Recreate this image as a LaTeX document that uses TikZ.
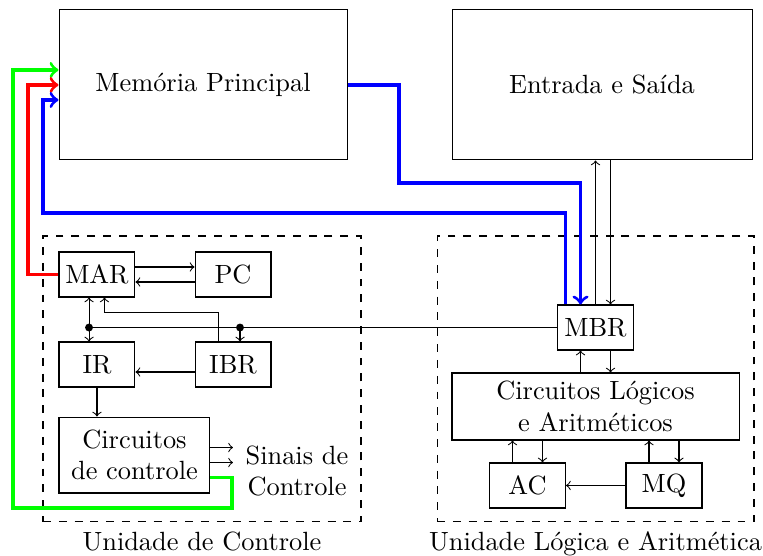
\documentclass[tikz,border=0pt]{standalone}
\usepackage{tikz}
\usepackage{amsmath}
\usetikzlibrary{calc}

\begin{document}
\begin{tikzpicture}[scale=1,
    caixa/.style={draw, minimum width=1.013cm, minimum height=0.6cm, inner sep=0pt},
    unidade/.style={draw, dashed, minimum width=4.24cm, minimum height=3.813cm},
    seta/.style={->},
    via/.style={->, very thick}]
    \useasboundingbox (0,0) rectangle (10.173,7.4);
    \node[draw, minimum width=3.84cm, minimum height=2cm] (MEM) at (2.707,6.267) {Memória Principal};
    \node[draw, minimum width=4cm, minimum height=2cm] (ES) at (8.027,6.267) {Entrada e Saída};
    \node[unidade] (UC) at (2.693,2.347) {};
    \node[unidade, minimum width=4.226cm] (ULA) at (7.94,2.347) {};
    \node[below] (UCnome) at (UC.south) {Unidade de Controle};
    \node[below] (ULAnome) at (ULA.south) {Unidade Lógica e Aritmética};
    \node[caixa] (MAR) at (1.293,3.74) {MAR};
    \node[caixa] (PC) at (3.107,3.74) {PC};
    \node[caixa] (IR) at (1.293,2.54) {IR};
    \node[caixa] (IBR) at (3.107,2.54) {IBR};
    \node[caixa, minimum width=2.013cm, minimum height=1.013cm, align=center] (CC) at (1.793,1.333) {Circuitos\\de controle};
    \node[align=center] (SC) at (3.96,1.12) {Sinais de\\Controle};
    \node[caixa] (MBR) at (7.94,3.033) {MBR};
    \node[caixa, minimum width=3.827cm, minimum height=0.893cm, align=center] (CLA) at (7.94,1.98) {Circuitos Lógicos\\e Aritméticos};
    \node[caixa] (AC) at (7.033,0.927) {AC};
    \node[caixa] (MQ) at (8.853,0.927) {MQ};
    \coordinate (B1) at (1.187,3.033);
    \coordinate (B2) at (3.2,3.033);
    \coordinate (M1) at ($(MBR.north)+(0.2,0)$);
    \coordinate (A1) at ($(AC.north)+(-0.2,0)$);
    \coordinate (A2) at ($(AC.north)+(0.2,0)$);
    \coordinate (Q1) at ($(MQ.north)+(-0.2,0)$);
    \coordinate (Q2) at ($(MQ.north)+(0.2,0)$);
    \draw[seta] ($(MAR.east)+(0,0.1)$) -- ($(PC.west)+(0,0.1)$);
    \draw[seta] ($(PC.west)+(0,-0.1)$) -- ($(MAR.east)+(0,-0.1)$);
    \draw (MBR.west) -- (B1); %BARRAMENTO
    \fill (B1) circle (1.5pt) (B2) circle (1.5pt);
    \draw[seta] (B1) -- (B1 |- MAR.south);
    \draw[seta] (B1) -- (B1 |- IR.north);
    \draw[seta] (B2) -- (B2 |- IBR.north);
    \draw[seta] ($(IBR.north)+(-0.2,0)$) |- ($(MAR.south)+(0.1,-0.2)$) -- ($(MAR.south)+(0.1,0)$);
    \draw[seta] ($(IBR.west)+(0,-0.1)$) -- ($(IR.east)+(0,-0.1)$);
    \draw[seta] (IR.south) -- (IR.south |- CC.north);
    \draw[seta] ($(CC.east)+(0,0.1)$) -- +(0.3,0);
    \draw[seta] ($(CC.east)+(0,-0.1)$) -- +(0.3,0);
    \draw[seta] (MBR.north) -- (MBR.north |- ES.south);
    \draw[seta] (ES.south -| M1) -- (M1);
    \draw[seta] ($(CLA.north)+(-0.2,0)$) -- ($(MBR.south)+(-0.2,0)$);
    \draw[seta] ($(MBR.south)+(0.2,0)$) -- ($(CLA.north)+(0.2,0)$);
    \draw[seta] (A1) -- (A1 |- CLA.south);
    \draw[seta] (A2 |- CLA.south) -- (A2);
    \draw[seta] (Q1) -- (Q1 |- CLA.south);
    \draw[seta] (Q2 |- CLA.south) -- (Q2);
    \draw[seta] (MQ.west) -- (AC.east);
    % VIAS PARA A MEMORIA
    \draw[via, green] ($(CC.east)+(0,-0.3)$) -| (3.093,0.627) -| (0.173,6.467) -- ($(MEM.west)+(0,0.2)$);
    \draw[via, red] (MAR.west) -| (0.373,6.267) -- (MEM.west);
    \draw[via, blue] ($(MBR.north)+(-0.4,0)$) |- (0.573,4.56) |- ($(MEM.west)+(0,-0.2)$);
    \draw[via, blue] (MEM.east) -| (5.32,4.96) -| ($(MBR.north)+(-0.2,0)$);
\end{tikzpicture}
\end{document}
